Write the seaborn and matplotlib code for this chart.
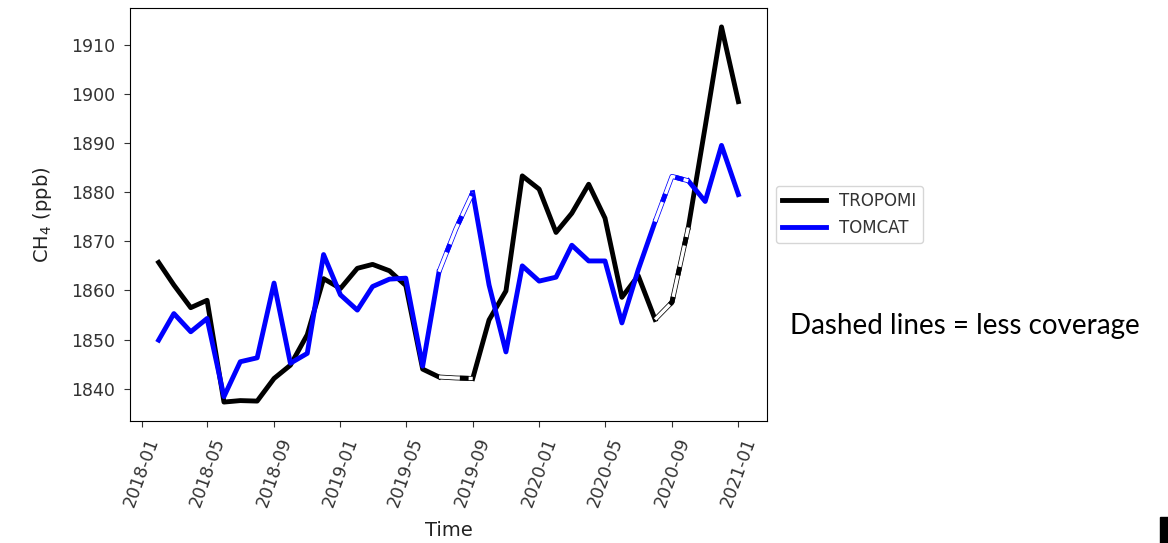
import matplotlib
matplotlib.use('Agg')
import matplotlib.pyplot as plt
import matplotlib.dates as mdates
from matplotlib.patches import Rectangle
import numpy as np
import pandas as pd
import seaborn as sns

# monthly means, Feb 2018 - Jan 2021
dates = pd.date_range('2018-02-01', '2021-01-01', freq='MS')
tropomi = [1865.7, 1861.1, 1856.5, 1858.0, 1837.3, 1837.6, 1837.5, 1842.1, 1844.8,
           1851.0, 1862.4, 1860.4, 1864.5, 1865.3, 1864.0, 1861.0, 1844.0, 1842.4,
           1842.2, 1842.1, 1854.0, 1859.9, 1883.3, 1880.6, 1871.8, 1875.7, 1881.6,
           1874.7, 1858.6, 1863.0, 1854.1, 1857.6, 1872.8, 1893.3, 1913.6, 1898.4]
tomcat = [1849.9, 1855.3, 1851.6, 1854.3, 1838.4, 1845.5, 1846.3, 1861.5, 1845.2,
          1847.2, 1867.3, 1859.1, 1856.0, 1860.8, 1862.3, 1862.5, 1844.6, 1863.8,
          1872.5, 1879.9, 1861.1, 1847.5, 1865.0, 1861.9, 1862.7, 1869.2, 1866.0,
          1866.0, 1853.4, 1864.2, 1874.0, 1883.2, 1882.3, 1878.1, 1889.5, 1879.5]
# stretches with less coverage (start, end index)
low_cov = [(17, 19), (30, 32)]

colors = {'TROPOMI': 'black', 'TOMCAT': 'blue'}

# split the solid line into pieces around the low-coverage stretches
seg = np.zeros(len(dates), dtype=int)
for k, (a, b) in enumerate(low_cov):
    seg[b:] = k + 1
rows = []
for name, vals in [('TROPOMI', tropomi), ('TOMCAT', tomcat)]:
    for i, (d, v) in enumerate(zip(dates, vals)):
        if any(a < i < b for a, b in low_cov):
            continue
        rows.append({'Time': d, 'CH4': v, 'series': name, 'seg': seg[i]})
df = pd.DataFrame(rows)

fig = plt.figure(figsize=(11.68, 5.43), dpi=100)
ax = fig.add_axes([0.111, 0.225, 0.546, 0.76])

sns.lineplot(data=df, x='Time', y='CH4', hue='series', units='seg',
             estimator=None, palette=colors, lw=3.5, ax=ax)

# dashed overlay for low coverage months
for name, vals in [('TROPOMI', tropomi), ('TOMCAT', tomcat)]:
    c = colors[name]
    for a, b in low_cov:
        xs = dates[a:b + 1]
        ys = vals[a:b + 1]
        ax.plot(xs, ys, color=c, lw=3.5, solid_capstyle='butt')
        ax.plot(xs, ys, color='white', lw=2.4, solid_capstyle='butt')
        ax.plot(xs, ys, color=c, lw=3.5, linestyle=(2, (1.8, 4.5)))

ax.xaxis.set_major_locator(mdates.MonthLocator(bymonth=[1, 5, 9]))
ax.xaxis.set_major_formatter(mdates.DateFormatter('%Y-%m'))
ax.tick_params(axis='both', length=4.5, pad=6, colors='#333333')
plt.setp(ax.get_xticklabels(), rotation=70, ha='center', fontsize=12.5)
plt.setp(ax.get_yticklabels(), fontsize=12.5)
ax.set_xlabel('Time', fontsize=14, color='#222222', labelpad=8)
ax.set_ylabel('CH$_4$ (ppb)', fontsize=14, color='#222222', labelpad=12)

handles, labels = ax.get_legend_handles_labels()
ax.legend(handles[:2], labels[:2], loc='center left', bbox_to_anchor=(1.0, 0.5),
          fontsize=12, handlelength=2.6, labelcolor='#333333')

fig.text(0.676, 0.40, 'Dashed lines = less coverage', fontsize=20,
         family=['Lato', 'DejaVu Sans'], va='center')
fig.patches.append(Rectangle((0.993, 0.0), 0.01, 0.048, transform=fig.transFigure,
                             color='black', figure=fig))

fig.savefig('out.png', dpi=100)
